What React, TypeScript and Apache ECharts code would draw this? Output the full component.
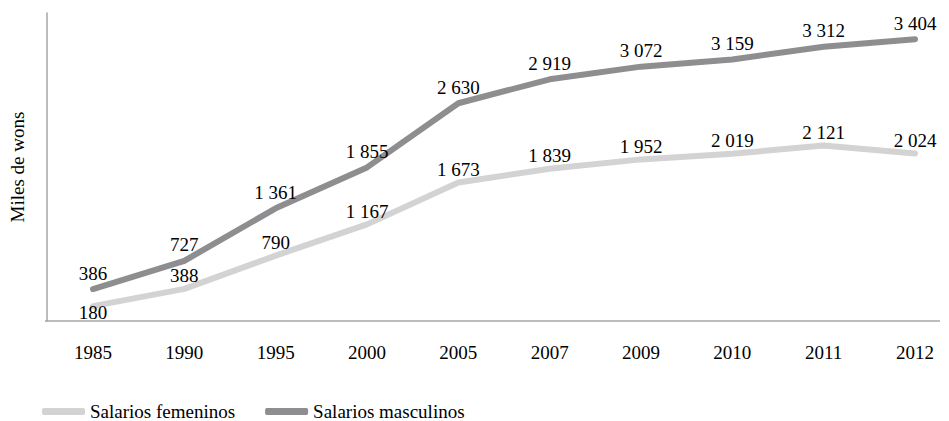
import React, { useEffect, useRef } from "react";
import * as echarts from "echarts";

const categories = ["1985", "1990", "1995", "2000", "2005", "2007", "2009", "2010", "2011", "2012"];
const femeninos = [180, 388, 790, 1167, 1673, 1839, 1952, 2019, 2121, 2024];
const masculinos = [386, 727, 1361, 1855, 2630, 2919, 3072, 3159, 3312, 3404];
const seriesNames = ["Salarios femeninos", "Salarios masculinos"];
const yAxisName = "Miles de wons";

const FONT = "Liberation Serif";
const FS = 19;
const fmt = (v: number) => {
  const s = String(v);
  return s.length > 3 ? s.slice(0, s.length - 3) + " " + s.slice(-3) : s;
};

const makeLabel = (distance: number) => ({
  show: true,
  position: "top",
  distance,
  textStyle: { fontFamily: "serif", fontSize: FS, color: "#000" },
  fontFamily: "serif",
  fontSize: FS,
  color: "#000",
  formatter: (p: any) => fmt(p.value),
});

export default function App() {
  const ref = useRef<HTMLDivElement>(null);
  useEffect(() => {
    if (!ref.current) return;
    const chart = echarts.init(ref.current, undefined, { renderer: "svg" });
    chart.setOption({
      animation: false,
      backgroundColor: "#ffffff",
      textStyle: { fontFamily: FONT, fontSize: FS, color: "#000" },
      grid: { left: 91, right: 34, top: 13, bottom: 100, containLabel: false },
      legend: {
        left: 37,
        top: 397,
        itemWidth: 43,
        itemHeight: 7,
        itemGap: 30,
        icon: "roundRect",
        textStyle: { fontFamily: FONT, fontSize: FS, color: "#000" },
        data: seriesNames,
      },
      xAxis: {
        type: "category",
        data: categories,
        boundaryGap: false,
        axisLine: { show: false },
        axisTick: { show: false },
        axisLabel: { fontFamily: FONT, fontSize: FS, color: "#000", margin: 22 },
        splitLine: { show: false },
      },
      yAxis: {
        type: "value",
        min: 0,
        max: 3720,
        offset: 46,
        name: yAxisName,
        nameLocation: "middle",
        nameGap: 20,
        nameRotate: 90,
        nameTextStyle: { fontFamily: FONT, fontSize: FS, color: "#000" },
        axisLine: { show: true, lineStyle: { color: "#a6a6a6", width: 1.5 } },
        axisTick: { show: false },
        axisLabel: { show: false },
        splitLine: { show: false },
      },
      graphic: [
        {
          type: "line",
          shape: { x1: 45, y1: 321, x2: 940, y2: 321 },
          style: { stroke: "#a6a6a6", lineWidth: 1.5 },
          silent: true,
        },
      ],
      series: [
        {
          name: seriesNames[0],
          type: "line",
          data: femeninos,
          showSymbol: true,
          symbol: "circle",
          symbolSize: 1,
          itemStyle: { color: "#d3d3d4" },
          color: "#d3d3d4",
          lineStyle: { width: 6, color: "#d3d3d4", cap: "round", join: "round" },
          label: makeLabel(3),
          labelLayout: (p: any) => (p.dataIndex === 0 ? { dy: 19 } : {}),
          z: 2,
        },
        {
          name: seriesNames[1],
          type: "line",
          data: masculinos,
          showSymbol: true,
          symbol: "circle",
          symbolSize: 1,
          itemStyle: { color: "#8e8e91" },
          color: "#8e8e91",
          lineStyle: { width: 6, color: "#8e8e91", cap: "round", join: "round" },
          label: makeLabel(6),
          z: 3,
        },
      ],
    });
    return () => chart.dispose();
  }, []);
  return (
    <div
      ref={ref}
      style={{ position: "fixed", left: 0, top: 0, width: 949, height: 421, background: "#fff" }}
    />
  );
}
